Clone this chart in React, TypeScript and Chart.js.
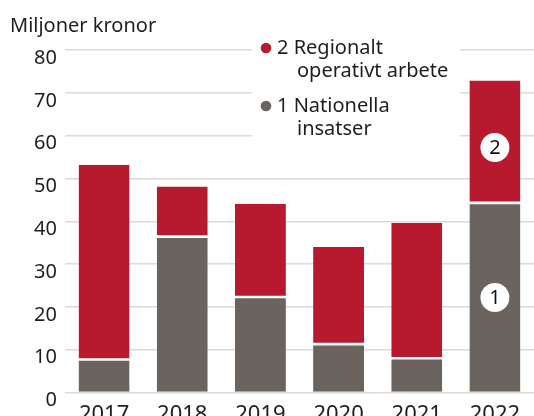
import React, { useEffect, useRef } from "react";
import { Chart, registerables } from "chart.js";

Chart.register(...registerables);

const categories = ["2017", "2018", "2019", "2020", "2021", "2022"];
const nationella = [7.7, 36.4, 22.3, 11.3, 8.0, 44.3];
const regionalt = [45.5, 11.7, 21.8, 22.7, 31.6, 28.6];
const yTicks = [0, 10, 20, 30, 40, 50, 60, 70, 80];
const badgeIndex = [5, 5];
const badgeValue = [22.2, 57.2];
const badgeText = ["1", "2"];
const legendItems = [
  { lines: ["2 Regionalt", "operativt arbete"], color: "#b71a2f" },
  { lines: ["1 Nationella", "insatser"], color: "#6b635d" },
];
const axisTitle = "Miljoner kronor";

const RED = "#b71a2f";
const GRAY = "#6b635d";
const FONT = "'Noto Sans', sans-serif";
const TEXT = "#1e1e1e";

const overlayPlugin = {
  id: "overlay",
  afterDraw(chart: any) {
    const ctx = chart.ctx;
    ctx.save();
    // axis title
    ctx.fillStyle = TEXT;
    ctx.font = `20px ${FONT}`;
    ctx.textAlign = "left";
    ctx.textBaseline = "alphabetic";
    ctx.fillText(axisTitle, 10, 31.5);

    // legend
    ctx.fillStyle = "#ffffff";
    ctx.fillRect(252, 28, 208, 122);
    let y = 54;
    legendItems.forEach((it) => {
      ctx.fillStyle = it.color;
      ctx.beginPath();
      ctx.arc(266, y - 6, 5.3, 0, Math.PI * 2);
      ctx.fill();
      ctx.fillStyle = TEXT;
      ctx.font = `20px ${FONT}`;
      ctx.fillText(it.lines[0], 277, y);
      ctx.fillText(it.lines[1], 297, y + 23);
      y += 58;
    });

    // badges
    const xs = chart.scales.x;
    const ys = chart.scales.y;
    badgeText.forEach((t, i) => {
      const cx = xs.getPixelForValue(badgeIndex[i]);
      const cy = ys.getPixelForValue(badgeValue[i]);
      ctx.fillStyle = "#ffffff";
      ctx.beginPath();
      ctx.arc(cx, cy, 14.5, 0, Math.PI * 2);
      ctx.fill();
      ctx.fillStyle = "#111";
      ctx.font = `20px ${FONT}`;
      ctx.textAlign = "center";
      ctx.textBaseline = "middle";
      ctx.fillText(t, cx, cy + 1);
    });
    ctx.restore();
  },
};

export default function App() {
  const ref = useRef<HTMLCanvasElement>(null);
  useEffect(() => {
    document.body.style.margin = "0";
    const chart = new Chart(ref.current!, {
      type: "bar",
      data: {
        labels: categories,
        datasets: [
          {
            label: "1 Nationella insatser",
            data: nationella,
            backgroundColor: GRAY,
            borderColor: "#ffffff",
            borderWidth: { top: 1.3, bottom: 0, left: 0, right: 0 },
            borderSkipped: false,
          },
          {
            label: "2 Regionalt operativt arbete",
            data: regionalt,
            backgroundColor: RED,
            borderColor: "#ffffff",
            borderWidth: { top: 0, bottom: 1.3, left: 0, right: 0 },
            borderSkipped: false,
          },
        ],
      },
      options: {
        animation: false,
        responsive: false,
        maintainAspectRatio: false,
        layout: { padding: { top: 50, left: 0, right: 0, bottom: 0 } },
        plugins: { legend: { display: false }, tooltip: { enabled: false } },
        datasets: { bar: { categoryPercentage: 1, barPercentage: 0.652 } },
        scales: {
          x: {
            stacked: true,
            grid: { display: false },
            border: { display: false },
            ticks: { color: TEXT, font: { family: FONT, size: 22 }, padding: 1 },
            afterFit(scale: any) {
              scale.height = 23.5;
            },
          },
          y: {
            stacked: true,
            min: 0,
            max: 80,
            afterBuildTicks(scale: any) {
              scale.ticks = yTicks.map((v) => ({ value: v }));
            },
            grid: { color: "#dadada", lineWidth: 1.5, drawTicks: false },
            border: { display: false },
            ticks: {
              color: TEXT,
              font: { family: FONT, size: 20 },
              padding: 8,
              labelOffset: 8,
            },
            afterFit(scale: any) {
              scale.width = 65;
            },
          },
        },
      },
      plugins: [overlayPlugin],
    });
    return () => chart.destroy();
  }, []);
  return (
    <div style={{ width: 534, height: 416 }}>
      <canvas ref={ref} width={534} height={416} style={{ display: "block" }} />
    </div>
  );
}
